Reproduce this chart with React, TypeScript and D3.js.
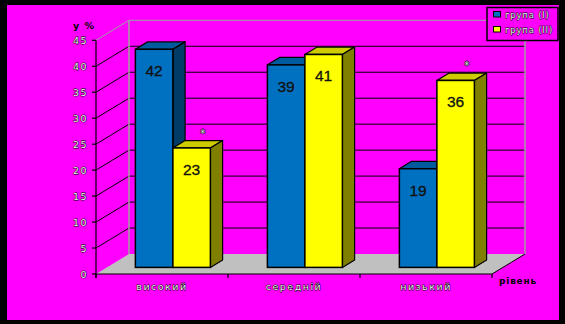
import React from "react";
import * as d3 from "d3";

const categories = ["високий", "середній", "низький"];
const seriesNames = ["група (І)", "група (ІІ)"];
const group1 = [42, 39, 19];
const group2 = [23, 41, 36];
const starred = [true, false, true]; // asterisk above group 2 bar
const yTicks = [0, 5, 10, 15, 20, 25, 30, 35, 40, 45];

const W = 565, H = 324;
const FRONT_X0 = 96, FRONT_X1 = 492, FRONT_Y0 = 274;
const DEPTH_DX = 33, DEPTH_DY = -20;
const BAR_F0 = 0.33, BAR_F1 = 0.7;

const colors = [
  { front: "#0070c0", top: "#005b9e", side: "#003c66" },
  { front: "#ffff00", top: "#cccc00", side: "#808000" },
];

const outlined = { fill: "#eeeeee", stroke: "#000", strokeWidth: 0.9, paintOrder: "stroke" } as any;

export default function App() {
  const h = d3.scaleLinear().domain([0, 45]).range([0, 233.7]);
  const x0 = d3.scaleBand<string>().domain(categories).range([FRONT_X0, FRONT_X1]);
  const x1 = d3.scaleBand<string>().domain(seriesNames).range([0, x0.bandwidth()]).paddingInner(0).paddingOuter(0.76);
  const series = [group1, group2];

  const backX0 = FRONT_X0 + DEPTH_DX, backX1 = FRONT_X1 + DEPTH_DX, backY0 = FRONT_Y0 + DEPTH_DY;
  const fdx = DEPTH_DX * BAR_F0, fdy = DEPTH_DY * BAR_F0;
  const bdx = DEPTH_DX * (BAR_F1 - BAR_F0), bdy = DEPTH_DY * (BAR_F1 - BAR_F0);
  const barBottom = FRONT_Y0 + fdy;

  return (
    <svg width={W} height={H} style={{ position: "absolute", left: 0, top: 0 }}>
      <rect x={0} y={0} width={W} height={H} fill="#000" />
      <rect x={7} y={5} width={552} height={315} fill="#ff00ff" />

      {/* floor */}
      <polygon
        points={`${FRONT_X0},${FRONT_Y0} ${backX0},${backY0} ${backX1},${backY0} ${FRONT_X1},${FRONT_Y0}`}
        fill="#c0c0c0"
      />

      {/* gridlines */}
      {yTicks.filter((t) => t > 0).map((t) => {
        const c = t === 45 ? "#a0a0a0" : "#000";
        return (
          <g key={t}>
            <line x1={FRONT_X0} y1={FRONT_Y0 - h(t)} x2={backX0} y2={backY0 - h(t)} stroke={c} strokeWidth={1} />
            <line x1={backX0} y1={backY0 - h(t)} x2={backX1} y2={backY0 - h(t)} stroke={c} strokeWidth={1} />
          </g>
        );
      })}
      <line x1={backX0} y1={backY0 - h(45)} x2={backX0} y2={backY0} stroke="#a0a0a0" strokeWidth={1.5} />
      <line x1={backX1} y1={backY0 - h(45)} x2={backX1} y2={backY0} stroke="#a0a0a0" strokeWidth={1.5} />

      {/* axes */}
      <line x1={FRONT_X0} y1={FRONT_Y0 - h(45)} x2={FRONT_X0} y2={FRONT_Y0 + 4} stroke="#000" strokeWidth={1.2} />
      {yTicks.map((t) => (
        <g key={t}>
          <line x1={FRONT_X0 - 4} y1={FRONT_Y0 - h(t)} x2={FRONT_X0} y2={FRONT_Y0 - h(t)} stroke="#000" strokeWidth={1.2} />
          <text x={FRONT_X0 - 8} y={FRONT_Y0 - h(t) + 3.5} textAnchor="end" fontFamily="DejaVu Sans" fontSize={9.5} letterSpacing={1.5} {...outlined}>
            {t}
          </text>
        </g>
      ))}
      <line x1={FRONT_X0} y1={FRONT_Y0} x2={FRONT_X1} y2={FRONT_Y0} stroke="#000" strokeWidth={1.2} />
      {[...categories.map((c) => x0(c)!), FRONT_X1].map((xv, i) => (
        <line key={i} x1={xv} y1={FRONT_Y0} x2={xv} y2={FRONT_Y0 + 4} stroke="#000" strokeWidth={1.2} />
      ))}
      <line x1={FRONT_X1} y1={FRONT_Y0} x2={backX1} y2={backY0} stroke="#000" strokeWidth={1} />

      {/* bars */}
      {categories.map((cat, ci) => (
        <g key={cat}>
          {series.map((vals, si) => {
            const v = vals[ci];
            const xl = x0(cat)! + x1(seriesNames[si])! + fdx;
            const w = x1.bandwidth();
            const yt = barBottom - h(v);
            const col = colors[si];
            return (
              <g key={si}>
                <polygon
                  points={`${xl},${yt} ${xl + bdx},${yt + bdy} ${xl + w + bdx},${yt + bdy} ${xl + w},${yt}`}
                  fill={col.top} stroke="#000" strokeWidth={1.2} strokeLinejoin="round"
                />
                <polygon
                  points={`${xl + w},${yt} ${xl + w + bdx},${yt + bdy} ${xl + w + bdx},${barBottom + bdy} ${xl + w},${barBottom}`}
                  fill={col.side} stroke="#000" strokeWidth={1.2} strokeLinejoin="round"
                />
                <rect x={xl} y={yt} width={w} height={h(v)} fill={col.front} stroke="#000" strokeWidth={1.5} />
                <text x={xl + w / 2} y={yt + 27} textAnchor="middle" fontFamily="Liberation Sans" fontSize={15.5} fill="#111" stroke="#111" strokeWidth={0.3}>
                  {v}
                </text>
                {si === 1 && starred[ci] && (
                  <text x={xl + w / 2 + 11} y={yt - 11} textAnchor="middle" fontFamily="DejaVu Sans" fontSize={10} {...outlined}>
                    *
                  </text>
                )}
              </g>
            );
          })}
        </g>
      ))}

      {/* category labels */}
      {categories.map((c) => (
        <text key={c} x={x0(c)! + x0.bandwidth() / 2} y={290} textAnchor="middle" fontFamily="DejaVu Sans" fontSize={9.5} letterSpacing={1.5} {...outlined}>
          {c}
        </text>
      ))}
      <text x={499} y={284} fontFamily="DejaVu Sans" fontSize={9} fontWeight="bold" letterSpacing={0.8} fill="#000">рівень</text>
      <text x={73} y={29} fontFamily="DejaVu Sans" fontSize={9.5} fontWeight="bold" letterSpacing={1} fill="#000">у %</text>

      {/* legend */}
      <rect x={487} y={7.5} width={71} height={33} fill="#ff00ff" stroke="#000" strokeWidth={1.5} />
      {seriesNames.map((s, i) => (
        <g key={s}>
          <rect x={493.5} y={11.5 + i * 15} width={7} height={5.5} fill={colors[i].front} stroke="#000" strokeWidth={1} />
          <text x={505} y={18 + i * 15} fontFamily="DejaVu Sans" fontSize={8.5} letterSpacing={0.8} {...outlined}>
            {s}
          </text>
        </g>
      ))}
    </svg>
  );
}
